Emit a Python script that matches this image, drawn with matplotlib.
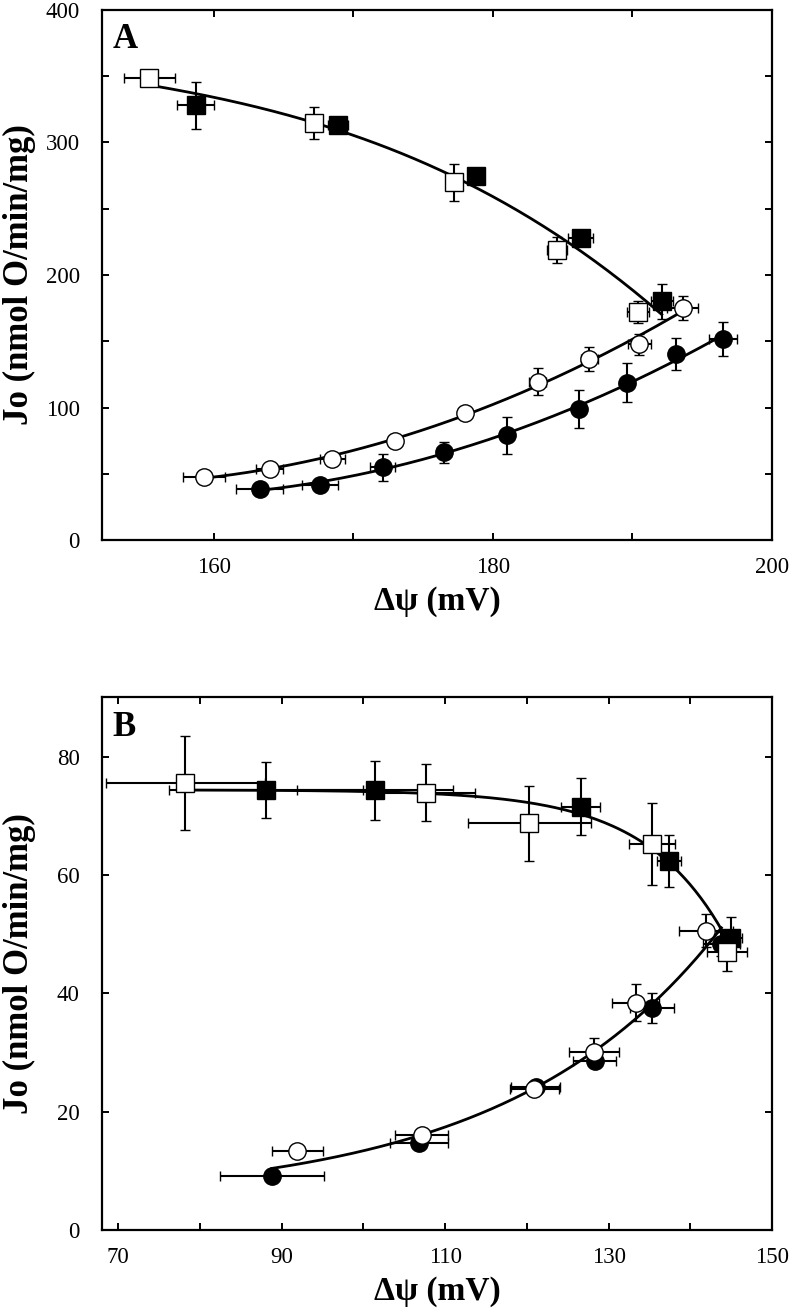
import numpy as np
import matplotlib
matplotlib.use("Agg")
import matplotlib.pyplot as plt

plt.rcParams["font.family"] = ["Liberation Serif", "DejaVu Serif"]

# ---------------- Panel A data ----------------
a_osq_x = [155.4, 167.2, 177.2, 184.6, 190.4]
a_osq_y = [349, 315, 270, 219, 172]
a_osq_xe = [1.8, 0, 0, 0.7, 0.8]
a_osq_ye = [3, 12, 14, 10, 8]

a_fsq_x = [158.7, 168.9, 178.8, 186.3, 192.1]
a_fsq_y = [328, 313, 274.5, 227.7, 180]
a_fsq_xe = [1.3, 0.7, 0.3, 0.9, 0.8]
a_fsq_ye = [18, 4, 3, 6, 13]

a_oci_x = [159.3, 164.0, 168.5, 173.0, 178.0, 183.2, 186.9, 190.5, 193.6]
a_oci_y = [47.8, 53.8, 61.4, 75, 95.6, 119.5, 136.9, 147.7, 175.3]
a_oci_xe = [1.5, 1.0, 0.9, 0.3, 0, 0.6, 0.6, 0.8, 1.1]
a_oci_ye = [0, 0, 3, 0, 0, 10, 9, 8, 9]

a_fci_x = [163.3, 167.6, 172.1, 176.5, 181.0, 186.2, 189.6, 193.1, 196.5]
a_fci_y = [38.5, 41.5, 54.8, 66.2, 79.2, 98.9, 118.8, 140.4, 151.5]
a_fci_xe = [1.7, 1.3, 0.9, 0.5, 0, 0, 0, 0, 1.0]
a_fci_ye = [0, 0, 10, 8, 14, 14, 15, 12, 13]

# ---------------- Panel B data ----------------
b_osq_x = [78.2, 107.6, 120.3, 135.3, 144.5]
b_osq_y = [75.5, 73.9, 68.7, 65.2, 46.9]
b_osq_xe = [9.7, 6.1, 7.5, 2.8, 2.4]
b_osq_ye = [7.9, 4.8, 6.3, 6.9, 3.2]

b_fsq_x = [88.1, 101.4, 126.6, 137.4, 145.0]
b_fsq_y = [74.3, 74.3, 71.5, 62.4, 49.4]
b_fsq_xe = [11.9, 9.5, 2.4, 1.5, 1.3]
b_fsq_ye = [4.7, 5.0, 4.8, 4.4, 3.5]

b_oci_x = [91.9, 107.1, 120.9, 128.2, 133.3, 141.9]
b_oci_y = [13.4, 16.1, 23.8, 30.1, 38.4, 50.6]
b_oci_xe = [3.1, 3.2, 3.0, 3.1, 2.9, 3.3]
b_oci_ye = [0, 0.5, 0.5, 2.3, 3.1, 2.8]

b_fci_x = [88.8, 106.8, 121.1, 128.3, 135.3, 143.8]
b_fci_y = [9.2, 14.7, 24.1, 28.5, 37.5, 48.3]
b_fci_xe = [6.4, 3.6, 3.0, 2.6, 2.7, 2.3]
b_fci_ye = [0, 0.5, 0.5, 0.8, 2.6, 2.0]


def poly_curve(xs, ys, deg=2):
    x = np.concatenate([np.asarray(v, float) for v in xs])
    y = np.concatenate([np.asarray(v, float) for v in ys])
    c = np.polyfit(x, y, deg)
    xx = np.linspace(x.min(), x.max(), 200)
    return xx, np.polyval(c, xx)


def exp_curve(xs, ys):
    # y = a + b*exp(k*x), k by grid search
    x = np.concatenate([np.asarray(v, float) for v in xs])
    y = np.concatenate([np.asarray(v, float) for v in ys])
    best = None
    for k in np.linspace(0.005, 0.4, 800):
        A = np.column_stack([np.ones_like(x), np.exp(k * (x - x.max()))])
        coef = np.linalg.lstsq(A, y, rcond=None)[0]
        r = np.sum((A @ coef - y) ** 2)
        if best is None or r < best[0]:
            best = (r, k, coef)
    _, k, coef = best
    xx = np.linspace(x.min(), x.max(), 200)
    return xx, coef[0] + coef[1] * np.exp(k * (xx - x.max()))


def points(ax, x, y, xe, ye, marker, filled, z):
    ax.errorbar(x, y, xerr=xe, yerr=ye, fmt=marker, ms=12.5,
                mfc="black" if filled else "white", mec="black", mew=1.0,
                ecolor="black", elinewidth=1.5, capsize=3.5, capthick=1.5,
                zorder=z)


def style(ax):
    for s in ax.spines.values():
        s.set_linewidth(1.6)
    ax.tick_params(which="both", direction="in", top=True, right=True,
                   length=5, width=1.4, labelsize=16.5, pad=12)
    ax.tick_params(axis="y", pad=16)
    ax.set_ylabel("Jo (nmol O/min/mg)", fontsize=25, fontweight="bold")
    ax.yaxis.set_label_coords(-0.098, 0.5)
    ax.set_xlabel("\u0394\u03c8 (mV)", fontsize=24, fontweight="bold", labelpad=6)


fig = plt.figure(figsize=(7.92, 13.12), dpi=100)
axA = fig.add_axes([0.1288, 0.5884, 0.8460, 0.4040])
axB = fig.add_axes([0.1288, 0.0625, 0.8460, 0.4060])

# Panel A
for xs, ys, d in [((a_osq_x, a_fsq_x), (a_osq_y, a_fsq_y), 3),
                  ((a_oci_x,), (a_oci_y,), 2), ((a_fci_x,), (a_fci_y,), 2)]:
    cx, cy = poly_curve(xs, ys, d)
    axA.plot(cx, cy, color="black", lw=2, zorder=2)
points(axA, a_fci_x, a_fci_y, a_fci_xe, a_fci_ye, "o", True, 3)
points(axA, a_oci_x, a_oci_y, a_oci_xe, a_oci_ye, "o", False, 4)
points(axA, a_osq_x, a_osq_y, a_osq_xe, a_osq_ye, "s", False, 4)
points(axA, a_fsq_x, a_fsq_y, a_fsq_xe, a_fsq_ye, "s", True, 5)
axA.set_xlim(152, 200)
axA.set_ylim(0, 400)
axA.set_xticks([160, 180, 200])
axA.set_xticks([170, 190], minor=True)
axA.set_yticks([0, 100, 200, 300, 400])
axA.set_yticks([50, 150, 250, 350], minor=True)
style(axA)
axA.text(0.016, 0.975, "A", transform=axA.transAxes, ha="left", va="top",
         fontsize=25, fontweight="bold")

# Panel B
for xs, ys in [((b_osq_x, b_fsq_x), (b_osq_y, b_fsq_y)),
               ((b_oci_x, b_fci_x), (b_oci_y, b_fci_y))]:
    cx, cy = exp_curve(xs, ys)
    axB.plot(cx, cy, color="black", lw=2, zorder=2)
points(axB, b_fci_x, b_fci_y, b_fci_xe, b_fci_ye, "o", True, 3)
points(axB, b_oci_x, b_oci_y, b_oci_xe, b_oci_ye, "o", False, 4)
points(axB, b_fsq_x, b_fsq_y, b_fsq_xe, b_fsq_ye, "s", True, 3)
points(axB, b_osq_x, b_osq_y, b_osq_xe, b_osq_ye, "s", False, 4)
axB.set_xlim(68, 150)
axB.set_ylim(0, 90)
axB.set_xticks([70, 90, 110, 130, 150])
axB.set_xticks([80, 100, 120, 140], minor=True)
axB.set_yticks([0, 20, 40, 60, 80])
style(axB)
axB.text(0.016, 0.975, "B", transform=axB.transAxes, ha="left", va="top",
         fontsize=25, fontweight="bold")

plt.savefig("out.png", dpi=100)
